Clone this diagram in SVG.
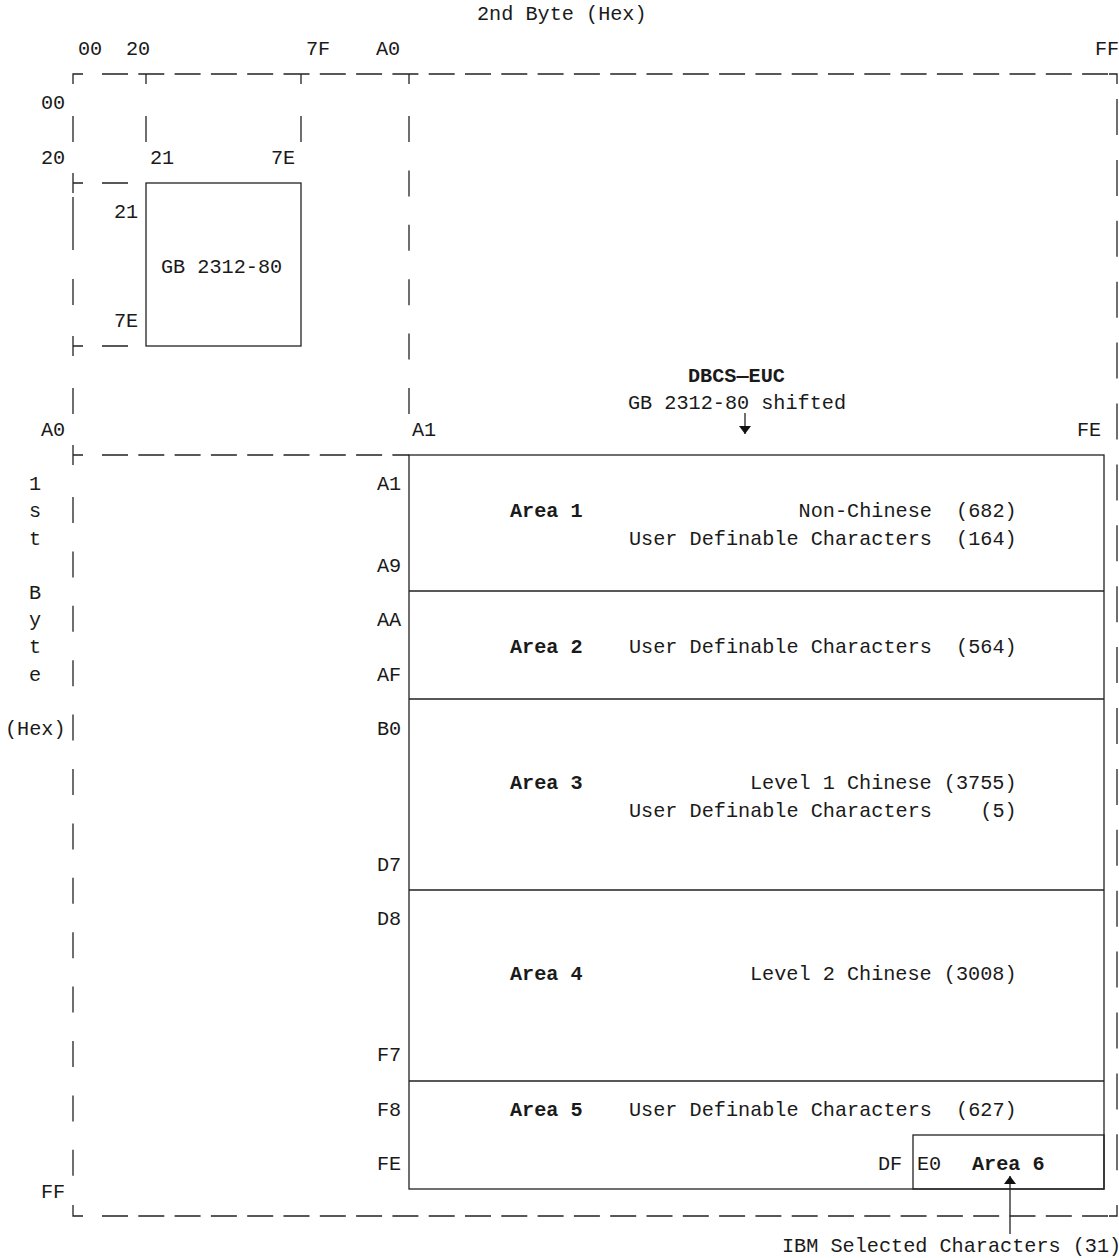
<svg xmlns="http://www.w3.org/2000/svg" width="1119" height="1258" viewBox="0 0 1119 1258">
<defs>
<style>
text{font-family:"Liberation Mono","DejaVu Sans Mono",monospace;font-size:20.2px;fill:#1a1a1a}
.b{font-weight:bold}
.m{text-anchor:middle}
.ln{stroke:#222;stroke-width:1.3;fill:none}
.dh{stroke:#222;stroke-width:1.3;fill:none;stroke-dasharray:26 10.3}
.dvl{stroke:#222;stroke-width:1.3;fill:none;stroke-dasharray:26 28.4}
.dvr{stroke:#222;stroke-width:1.3;fill:none;stroke-dasharray:36 24.9}
.box{stroke:#222;stroke-width:1.3;fill:none}
</style>
<marker id="ah" viewBox="0 0 8 12" refX="8" refY="6" markerWidth="8" markerHeight="12" markerUnits="userSpaceOnUse" orient="auto"><path d="M0,0 L8,6 L0,12 z" fill="#111"/></marker>
</defs>
<rect width="1119" height="1258" fill="#fff"/>

<g id="frame">
<!-- top dashed line -->
<path class="ln" d="M73 84 V74 H83"/>
<path class="dh" d="M102 74 H1108"/>
<path class="ln" d="M1109 74 H1117 V84"/>
<path class="ln" d="M146 74 V84 M301 74 V84 M409 74 V84"/>
<!-- bottom dashed line -->
<path class="ln" d="M73 1205 V1216 H83"/>
<path class="dh" d="M102 1216 H1108"/>
<path class="ln" d="M1109 1216 H1117 V1205"/>
<!-- left line -->
<path class="ln" d="M73 116 V142 M73 173 V193 M73 183 H83 M73 197 V250 M73 279 V305 M73 336 V356 M73 346 H83 M73 388 V414 M73 445 V465 M73 455 H83"/>
<path class="dvl" d="M73 497 V1176"/>
<!-- tee dashes -->
<path class="ln" d="M102 183 H128 M102 346 H128"/>
<path class="dh" d="M102 455 H409"/>
<!-- inner top columns -->
<path class="ln" d="M146 116 V142 M301 116 V142"/>
<path class="dvl" d="M409 116 V415"/>
<!-- right line -->
<path class="dvr" d="M1117 99 V1171"/>
</g>

<g id="gb2312">
<rect class="box" x="146" y="183" width="155" height="163"/>
<text x="161" y="273">GB 2312-80</text>
</g>

<g id="euc">
<rect class="box" x="409" y="455" width="695" height="734"/>
<path class="ln" d="M409 591 H1104 M409 699 H1104 M409 890 H1104 M409 1081 H1104"/>
</g>

<g id="area1">
<text class="b" x="510" y="517">Area 1</text>
<text x="629" y="517" xml:space="preserve">              Non-Chinese  (682)</text>
<text x="629" y="545" xml:space="preserve">User Definable Characters  (164)</text>
</g>
<g id="area2">
<text class="b" x="510" y="653">Area 2</text>
<text x="629" y="653" xml:space="preserve">User Definable Characters  (564)</text>
</g>
<g id="area3">
<text class="b" x="510" y="789">Area 3</text>
<text x="750" y="789">Level 1 Chinese (3755)</text>
<text x="629" y="817" xml:space="preserve">User Definable Characters    (5)</text>
</g>
<g id="area4">
<text class="b" x="510" y="980">Area 4</text>
<text x="750" y="980">Level 2 Chinese (3008)</text>
</g>
<g id="area5">
<text class="b" x="510" y="1116">Area 5</text>
<text x="629" y="1116" xml:space="preserve">User Definable Characters  (627)</text>
</g>
<g id="area6">
<rect class="box" x="913" y="1135" width="191" height="54"/>
<text x="878" y="1170">DF</text>
<text x="917" y="1170">E0</text>
<text class="b" x="972" y="1170">Area 6</text>
</g>

<g id="labels">
<text x="477" y="20">2nd Byte (Hex)</text>
<text x="78" y="55">00</text>
<text x="126" y="55">20</text>
<text x="306" y="55">7F</text>
<text x="376" y="55">A0</text>
<text x="1095" y="55">FF</text>
<text x="41" y="109">00</text>
<text x="41" y="164">20</text>
<text x="150" y="164">21</text>
<text x="271" y="164">7E</text>
<text x="114" y="218">21</text>
<text x="114" y="327">7E</text>
<text x="41" y="436">A0</text>
<text x="412" y="436">A1</text>
<text x="1077" y="436">FE</text>
<text class="m" x="35" y="490">1</text>
<text class="m" x="35" y="517">s</text>
<text class="m" x="35" y="545">t</text>
<text class="m" x="35" y="599">B</text>
<text class="m" x="35" y="626">y</text>
<text class="m" x="35" y="653">t</text>
<text class="m" x="35" y="681">e</text>
<text x="5" y="735">(Hex)</text>
<text x="41" y="1198">FF</text>
<text x="377" y="490">A1</text>
<text x="377" y="572">A9</text>
<text x="377" y="626">AA</text>
<text x="377" y="681">AF</text>
<text x="377" y="735">B0</text>
<text x="377" y="871">D7</text>
<text x="377" y="925">D8</text>
<text x="377" y="1061">F7</text>
<text x="377" y="1116">F8</text>
<text x="377" y="1170">FE</text>
<text class="b" x="688" y="382">DBCS—EUC</text>
<text x="628" y="409">GB 2312-80 shifted</text>
<text x="782" y="1252">IBM Selected Characters (31)</text>
</g>

<g id="connectors">
<line class="ln" x1="745" y1="413" x2="745" y2="434" marker-end="url(#ah)"/>
<line class="ln" x1="1010" y1="1234" x2="1010" y2="1176" marker-end="url(#ah)"/>
</g>
</svg>
